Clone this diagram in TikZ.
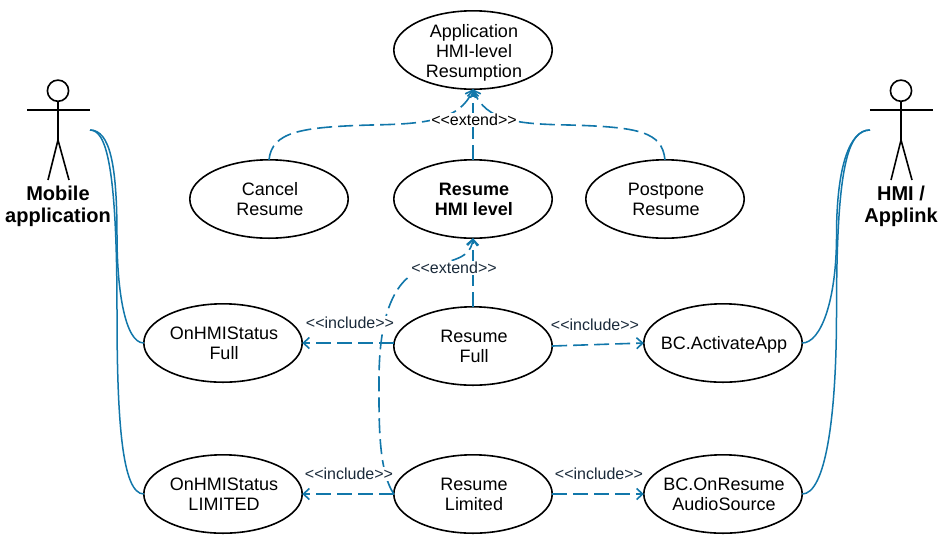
\documentclass[tikz,border=0pt]{standalone}
\usepackage{fontspec}
\setmainfont{Liberation Sans}
\usetikzlibrary{shapes.geometric,arrows.meta}
\definecolor{linkblue}{HTML}{1177AA}
\definecolor{labelink}{HTML}{1A2A3A}
\newcommand{\uctext}[1]{\hspace*{2pt}\begin{tabular}{@{}c@{}}\rule{0pt}{18pt}#1\end{tabular}}
\tikzset{
  x=1pt,y=-1pt,
  usecase/.style={ellipse,draw=black,fill=white,line width=1.6pt,minimum width=158.4pt,minimum height=78.4pt,inner sep=-40pt,outer sep=0pt,font=\fontsize{18}{20}\selectfont},
  dep/.style={draw=linkblue,line width=1.6pt,dash pattern=on 15pt off 6pt,-{Straight Barb[length=6pt,width=11pt,line width=1.6pt]}},
  wire/.style={draw=linkblue,line width=1.5pt},
  deplabel/.style={fill=white,inner sep=1pt,text=labelink,font=\fontsize{16}{18}\selectfont},
  stick/.style={draw=black,line width=1.6pt},
  actorname/.style={align=center,inner sep=0pt,font=\fontsize{20}{22}\selectfont\bfseries},
}
\begin{document}
\begin{tikzpicture}
\useasboundingbox (0,0) rectangle (950,550);
\fill[white] (0,0) rectangle (950,550);
% use cases
\node[usecase] (app) at (473,50) {\uctext{\rule{0pt}{20pt}Application\\HMI-level\\Resumption}};
\node[usecase] (cancel) at (269,199) {\uctext{Cancel\\Resume}};
\node[usecase] (hmi) at (473,199) {\uctext{\bfseries Resume\\\bfseries HMI level}};
\node[usecase] (post) at (665,199) {\uctext{Postpone\\Resume}};
\node[usecase] (ofull) at (223,343) {\uctext{OnHMIStatus\\Full}};
\node[usecase] (rfull) at (473,346) {\uctext{Resume\\Full}};
\node[usecase] (act) at (723,343) {\uctext{BC.ActivateApp}};
\node[usecase] (olim) at (223,494) {\uctext{OnHMIStatus\\LIMITED}};
\node[usecase] (rlim) at (473,494) {\uctext{Resume\\Limited}};
\node[usecase] (aud) at (723,494) {\uctext{BC.OnResume\\AudioSource}};
% actors
\draw[stick] (58,90.7) circle (10.6);
\draw[stick] (27,110) -- (90,110);
\draw[stick] (58,101) -- (58,140) (48,180) -- (58,140) -- (69,180);
\node[actorname] (mob) at (58,206) {Mobile\\application};
\coordinate (mobhand) at (90,130);
\draw[stick] (901,90.7) circle (10.6);
\draw[stick] (870,110) -- (933,110);
\draw[stick] (901,101) -- (901,140) (891,180) -- (901,140) -- (912,180);
\node[actorname] (hmiact) at (901,206) {HMI /\\Applink};
\coordinate (hmihand) at (870,130);
% actor links
\draw[wire] (mobhand) .. controls (110,130) and (117,165) .. (117,236) .. controls (117,290) and (125,343) .. (ofull.west);
\draw[wire] (mobhand) .. controls (106,130) and (117,165) .. (117,312) .. controls (117,420) and (122,494) .. (olim.west);
\draw[wire] (act.east) .. controls (821,343) and (836.5,300) .. (836.5,236) .. controls (836.5,165) and (850,130) .. (hmihand);
\draw[wire] (aud.east) .. controls (825,494) and (836.5,420) .. (836.5,312) .. controls (836.5,165) and (848,130) .. (hmihand);
% dependencies
\draw[dep] (hmi.north) -- (app.south);
\draw[dep] (cancel.north) .. controls (272,132) and (300,127) .. (371,125) .. controls (420,124) and (460,122) .. (app.south);
\draw[dep] (post.north) .. controls (662,132) and (640,127) .. (569,125) .. controls (520,124) and (486,122) .. (app.south);
\draw[dep] (rfull.north) -- (hmi.south);
\draw[dep] (rlim.west) .. controls (378,470) and (379,420) .. (379,380) .. controls (379,320) and (392,282) .. (420,270) .. controls (445,260) and (470,262) .. (hmi.south);
\draw[dep] (rfull.west |- ofull.east) -- (ofull.east);
\draw[dep] (rfull.east) -- (act.west);
\draw[dep] (rlim.west) -- (olim.east);
\draw[dep] (rlim.east) -- (aud.west);
% labels
\node[deplabel,text=black] (l1) at (474,120) {<{}<extend>{}>};
\node[deplabel] (l2) at (454,268) {<{}<extend>{}>};
\node[deplabel] (l3) at (350,323) {<{}<include>{}>};
\node[deplabel] (l4) at (595,325) {<{}<include>{}>};
\node[deplabel] (l5) at (349,474) {<{}<include>{}>};
\node[deplabel] (l6) at (599,474) {<{}<include>{}>};
\end{tikzpicture}
\end{document}
